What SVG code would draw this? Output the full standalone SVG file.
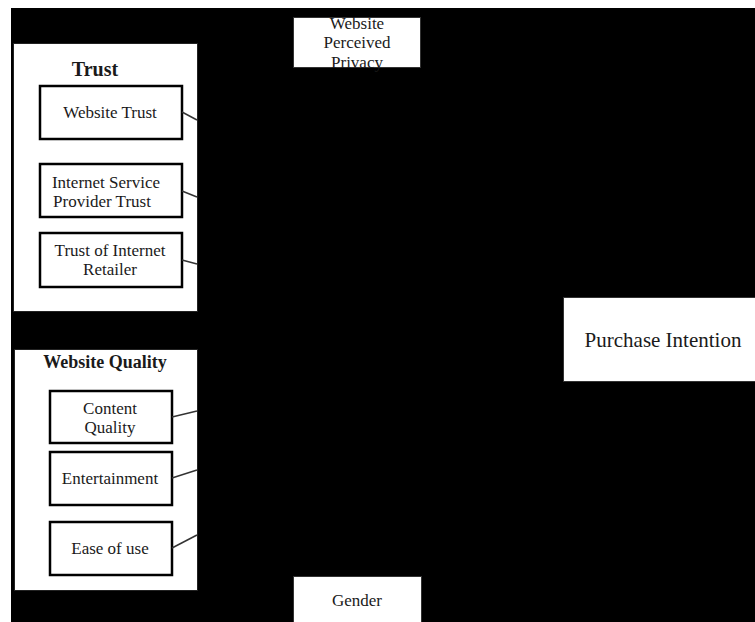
<svg xmlns="http://www.w3.org/2000/svg" width="755" height="622" viewBox="0 0 755 622">
<style>
text{font-family:"Liberation Serif","Times New Roman",serif;fill:#1a1a1a;text-anchor:middle}
.t{font-size:17px}
.h{font-weight:bold;font-size:20px}
.group{fill:#fff;stroke:#222;stroke-width:1}
.box{fill:#fff;stroke:#000;stroke-width:2.5}
.plain{fill:#fff;stroke:#333;stroke-width:1}
.conn{stroke:#333;stroke-width:1.5;fill:none}
</style>
<rect x="0" y="0" width="755" height="622" fill="#fff"/>
<rect x="11" y="8" width="744" height="614" fill="#000"/>
<g id="trust">
<rect class="group" x="13.5" y="43.5" width="184" height="268"/>
<text class="h" x="95" y="76">Trust</text>
</g>
<g id="website-trust">
<rect class="box" x="40" y="86" width="142" height="53"/>
<text class="t" x="110" y="118">Website Trust</text>
</g>
<g id="isp-trust">
<rect class="box" x="40" y="164" width="142" height="53"/>
<text class="t" x="106" y="188">Internet Service</text>
<text class="t" x="102" y="207">Provider Trust</text>
</g>
<g id="retailer-trust">
<rect class="box" x="40" y="233" width="142" height="54"/>
<text class="t" x="110" y="256">Trust of Internet</text>
<text class="t" x="110" y="275">Retailer</text>
</g>
<g id="website-quality">
<rect class="group" x="14.5" y="349.5" width="183" height="241"/>
<text class="h" x="105" y="368" style="font-size:18px">Website Quality</text>
</g>
<g id="content-quality">
<rect class="box" x="50" y="391" width="122" height="52"/>
<text class="t" x="110" y="414">Content</text>
<text class="t" x="110" y="433">Quality</text>
</g>
<g id="entertainment">
<rect class="box" x="50" y="452" width="122" height="53"/>
<text class="t" x="110" y="484">Entertainment</text>
</g>
<g id="ease-of-use">
<rect class="box" x="50" y="522" width="122" height="53"/>
<text class="t" x="110" y="554">Ease of use</text>
</g>
<g id="privacy">
<rect class="plain" x="293.5" y="17.5" width="127" height="50"/>
<text class="t" x="357" y="29">Website</text>
<text class="t" x="357" y="48">Perceived</text>
<text class="t" x="357" y="68">Privacy</text>
</g>
<g id="purchase-intention">
<rect class="plain" x="563.5" y="297.5" width="200" height="84"/>
<text x="663" y="347" style="font-size:21px">Purchase Intention</text>
</g>
<g id="gender">
<rect class="plain" x="293.5" y="576.5" width="128" height="60"/>
<text class="t" x="357" y="606">Gender</text>
</g>
<g id="connectors">
<line class="conn" x1="182" y1="112" x2="197" y2="120"/>
<line class="conn" x1="182" y1="191" x2="197" y2="197"/>
<line class="conn" x1="182" y1="260" x2="197" y2="264"/>
<line class="conn" x1="172" y1="417" x2="197" y2="411"/>
<line class="conn" x1="172" y1="478" x2="197" y2="470"/>
<line class="conn" x1="172" y1="548" x2="197" y2="535"/>
</g>
</svg>
